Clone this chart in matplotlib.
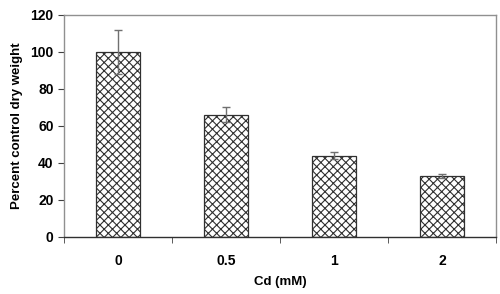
import matplotlib
matplotlib.use('Agg')
import matplotlib.pyplot as plt
import numpy as np

categories = ['0', '0.5', '1', '2']
values = [100, 66, 44, 33]
errors = [12, 4, 2, 1]

plt.rcParams['font.family'] = 'Liberation Sans'
plt.rcParams['font.weight'] = 'bold'
plt.rcParams['hatch.color'] = '#404040'
plt.rcParams['hatch.linewidth'] = 0.8

fig = plt.figure(figsize=(5.0, 2.94), dpi=100)
ax = fig.add_axes([0.128, 0.194, 0.864, 0.755])

x = np.arange(len(categories))
ax.bar(x, values, width=0.4, facecolor='white', edgecolor='#303030',
       linewidth=0.9, hatch='xxxx', zorder=2)
ax.errorbar(x, values, yerr=errors, fmt='none', ecolor='#707070',
            elinewidth=1.0, capsize=3, capthick=1.0, zorder=3)

ax.set_xlim(-0.5, len(categories) - 0.5)
ax.set_ylim(0, 120)
ax.set_yticks(range(0, 121, 20))
ax.set_xticks(x)
ax.set_xticklabels(categories, fontsize=10, fontweight='bold')
ax.tick_params(axis='x', length=0, pad=12)
ax.set_xticks(np.arange(-0.5, len(categories), 1), minor=True)
ax.tick_params(axis='x', which='minor', length=4, color='#404040', direction='out')
ax.tick_params(axis='y', labelsize=10, length=4, color='#404040', direction='out')

for side in ['top', 'right', 'left']:
    ax.spines[side].set_color('#909090')
    ax.spines[side].set_linewidth(1.0)
ax.spines['bottom'].set_color('#303030')
ax.spines['bottom'].set_linewidth(1.0)

ax.set_xlabel('Cd (mM)', fontsize=9.5, fontweight='bold', labelpad=6)
ax.set_ylabel('Percent control dry weight', fontsize=9.5, fontweight='bold', labelpad=5)

fig.savefig('out.png', dpi=100)
